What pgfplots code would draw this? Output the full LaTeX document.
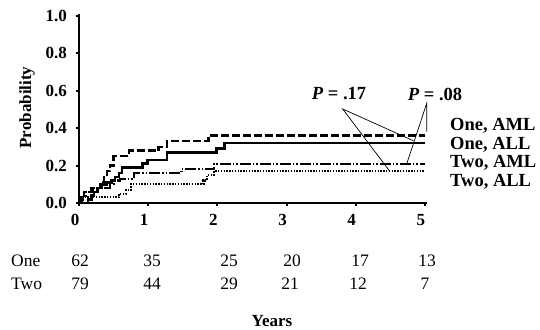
\documentclass[border=0pt]{standalone}
\usepackage{pgfplots}
\pgfplotsset{compat=1.18}
\usepackage{fontspec}
\setmainfont{Liberation Serif}
\begin{document}
\begin{tikzpicture}[x=1pt,y=1pt]
\path[use as bounding box] (0,0) rectangle (540,329);
\begin{axis}[
  at={(79pt,126pt)}, anchor=south west,
  scale only axis, width=348pt, height=189pt,
  xmin=0, xmax=5.03, ymin=0, ymax=1.01,
  axis x line*=bottom, axis y line*=left,
  axis line style={line width=2.6pt},
  xtick={0,1,2,3,4,5}, ytick={0,0.2,0.4,0.6,0.8,1.0},
  tick align=outside, major tick length=3.5pt,
  tick style={line width=2pt, black},
  /pgf/number format/fixed, /pgf/number format/fixed zerofill,
  /pgf/number format/assume math mode=true,
  yticklabel style={/pgf/number format/precision=1, font=\fontsize{17}{19}\selectfont\bfseries, xshift=-5pt},
  xticklabel style={/pgf/number format/precision=0, /pgf/number format/fixed zerofill=false, font=\fontsize{17}{19}\selectfont\bfseries, yshift=-4pt, xshift=-4pt},
  clip=false,
]
% One, AML (dashed)
\addplot[const plot, line width=2.3pt, dash pattern=on 8pt off 3pt] coordinates {
(0,0) (0.04,0.03) (0.07,0.06) (0.18,0.08) (0.30,0.11) (0.36,0.14) (0.40,0.17) (0.45,0.20) (0.50,0.25) (0.72,0.28) (1.15,0.30) (1.27,0.33) (1.87,0.36) (5,0.36)};
% One, ALL (solid)
\addplot[const plot, line width=2.5pt] coordinates {
(0,0) (0.13,0.02) (0.18,0.04) (0.22,0.06) (0.27,0.08) (0.33,0.10) (0.40,0.11) (0.47,0.12) (0.52,0.14) (0.58,0.16) (0.62,0.19) (0.92,0.21) (0.99,0.23) (1.27,0.27) (1.99,0.29) (2.10,0.32) (5,0.32)};
% Two, AML (dash-dot-dot)
\addplot[const plot, line width=2.3pt, dash pattern=on 11pt off 2pt on 1.5pt off 2pt on 1.5pt off 2pt] coordinates {
(0,0) (0.03,0.03) (0.10,0.06) (0.20,0.08) (0.45,0.10) (0.50,0.12) (0.59,0.13) (0.80,0.16) (1.48,0.18) (1.95,0.21) (5,0.21)};
% Two, ALL (dotted)
\addplot[const plot, line width=2.2pt, dash pattern=on 1.4pt off 1.4pt] coordinates {
(0,0) (0.05,0.03) (0.58,0.05) (0.68,0.07) (0.75,0.10) (1.80,0.12) (1.85,0.15) (1.95,0.17) (5,0.17)};
\end{axis}
% y label
\node[rotate=90, font=\fontsize{17}{19}\selectfont\bfseries] at (27,221.5) {Probability};
% series labels
\begin{scope}[every node/.style={anchor=west, inner sep=0pt, font=\fontsize{18.5}{21}\selectfont\bfseries}]
\node at (450,203) {One, AML};
\node at (450,184) {One, ALL};
\node at (450,166) {Two, AML};
\node at (450,147) {Two, ALL};
\end{scope}
% P values
\node[font=\fontsize{18.5}{21}\selectfont\bfseries] at (339,235) {\textit{P} = .17};
\node[font=\fontsize{18.5}{21}\selectfont\bfseries] at (435,235) {\textit{P} = .08};
\draw[line width=0.7pt] (413.3,188.3) -- (342.7,220) -- (389.3,158.3);
\draw[line width=0.7pt] (426.7,197.3) -- (426.7,225.7) -- (406.7,165);
% risk table
\begin{scope}[every node/.style={font=\fontsize{17.5}{20}\selectfont}]
\node[anchor=west, inner sep=0pt] at (11,68) {One};
\node[anchor=west, inner sep=0pt] at (11,45) {Two};
\node at (80,68) {62}; \node at (152,68) {35}; \node at (229,68) {25};
\node at (292,68) {20}; \node at (360,68) {17}; \node at (427,68) {13};
\node at (80,45) {79}; \node at (152,45) {44}; \node at (229,45) {29};
\node at (290,45) {21}; \node at (358,45) {12}; \node at (425,45) {7};
\end{scope}
\node[font=\fontsize{17}{19}\selectfont\bfseries] at (272,8) {Years};
\end{tikzpicture}
\end{document}
